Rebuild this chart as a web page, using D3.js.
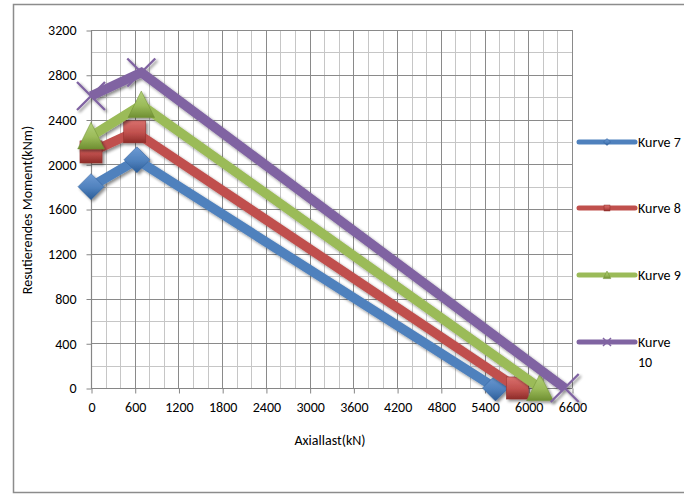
<!DOCTYPE html>
<html>
<head>
<meta charset="utf-8">
<script src="https://d3js.org/d3.v7.min.js"></script>
<style>
html,body{margin:0;padding:0;background:#fff;}
svg{display:block;}
text{font-family:Carlito,Calibri,Lato,"Liberation Sans",sans-serif;fill:#000;}
</style>
</head>
<body>
<svg id="chart" width="684" height="494"></svg>
<script>
// ---- data ----
const seriesNames = ["Kurve 7", "Kurve 8", "Kurve 9", "Kurve 10"];
const kurve7X = [0, 630, 5550];
const kurve7Y = [1800, 2040, 0];
const kurve8X = [0, 600, 5850];
const kurve8Y = [2110, 2290, 0];
const kurve9X = [0, 690, 6160];
const kurve9Y = [2250, 2530, 0];
const kurve10X = [0, 690, 6500];
const kurve10Y = [2610, 2820, 0];
const xTicks = [0, 600, 1200, 1800, 2400, 3000, 3600, 4200, 4800, 5400, 6000, 6600];
const yTicks = [0, 400, 800, 1200, 1600, 2000, 2400, 2800, 3200];
const xTitle = "Axiallast(kN)";
const yTitle = "Resutierendes Moment(kNm)";

const colors = ["#4F81BD", "#C0504D", "#9BBB59", "#8064A2"];
const darks = ["#2c5d98", "#8e2d2a", "#6f8f32", "#5b427c"];
const lights = ["#6d9ad3", "#d9706d", "#b2d07a", "#9a83ba"];
const shapes = ["diamond", "square", "triangle", "x"];
const FS = "14px";

const series = [
  {name: seriesNames[0], xs: kurve7X, ys: kurve7Y},
  {name: seriesNames[1], xs: kurve8X, ys: kurve8Y},
  {name: seriesNames[2], xs: kurve9X, ys: kurve9Y},
  {name: seriesNames[3], xs: kurve10X, ys: kurve10Y}
];

const svg = d3.select("#chart");
const defs = svg.append("defs");
const f = defs.append("filter").attr("id", "shadow").attr("x", "-30%").attr("y", "-30%").attr("width", "160%").attr("height", "160%");
f.append("feGaussianBlur").attr("in", "SourceAlpha").attr("stdDeviation", 1.6).attr("result", "b");
f.append("feOffset").attr("in", "b").attr("dx", 2).attr("dy", 2).attr("result", "o");
f.append("feComponentTransfer").attr("in", "o").attr("result", "o2")
  .append("feFuncA").attr("type", "linear").attr("slope", 0.45);
const fm = f.append("feMerge");
fm.append("feMergeNode").attr("in", "o2");
fm.append("feMergeNode").attr("in", "SourceGraphic");

colors.forEach((c, i) => {
  const g = defs.append("linearGradient").attr("id", "grad" + i).attr("x1", 0).attr("y1", 0).attr("x2", 0).attr("y2", 1);
  g.append("stop").attr("offset", "0%").attr("stop-color", lights[i]);
  g.append("stop").attr("offset", "55%").attr("stop-color", c);
  g.append("stop").attr("offset", "100%").attr("stop-color", darks[i]);
});

// outer border
svg.append("rect").attr("x", 13.5).attr("y", 4.5).attr("width", 700).attr("height", 488)
  .attr("fill", "none").attr("stroke", "#8c8c8c").attr("stroke-width", 1.5);

const x = d3.scaleLinear().domain([0, 6600]).range([91, 572]);
const y = d3.scaleLinear().domain([0, 3200]).range([388, 30]);

// minor grid
const xMinor = d3.range(0, 6601, 200).filter(v => v % 600 !== 0);
const yMinor = d3.range(0, 3201, 200).filter(v => v % 400 !== 0);
const grid = svg.append("g");
grid.selectAll(".xm").data(xMinor).join("line")
  .attr("x1", d => Math.round(x(d)) + 0.5).attr("x2", d => Math.round(x(d)) + 0.5)
  .attr("y1", y(3200)).attr("y2", y(0)).attr("stroke", "#c6c6c6").attr("stroke-width", 1);
grid.selectAll(".ym").data(yMinor).join("line")
  .attr("y1", d => Math.round(y(d)) + 0.5).attr("y2", d => Math.round(y(d)) + 0.5)
  .attr("x1", x(0)).attr("x2", x(6600)).attr("stroke", "#c6c6c6").attr("stroke-width", 1);
grid.selectAll(".xM").data(xTicks).join("line")
  .attr("x1", d => Math.round(x(d)) + 0.5).attr("x2", d => Math.round(x(d)) + 0.5)
  .attr("y1", y(3200)).attr("y2", y(0)).attr("stroke", "#8a8a8a").attr("stroke-width", 1);
grid.selectAll(".yM").data(yTicks).join("line")
  .attr("y1", d => Math.round(y(d)) + 0.5).attr("y2", d => Math.round(y(d)) + 0.5)
  .attr("x1", x(0)).attr("x2", x(6600)).attr("stroke", "#8a8a8a").attr("stroke-width", 1);

// axes
const xAxis = d3.axisBottom(x).tickValues(xTicks).tickSize(5).tickPadding(9).tickFormat(d3.format("d"));
const yAxis = d3.axisLeft(y).tickValues(yTicks).tickSize(5).tickPadding(10).tickFormat(d3.format("d"));
const gx = svg.append("g").attr("transform", `translate(0.5,${Math.round(y(0)) + 0.5})`).call(xAxis);
const gy = svg.append("g").attr("transform", `translate(${Math.round(x(0)) + 0.5},0.5)`).call(yAxis);
[gx, gy].forEach(g => {
  g.select(".domain").attr("stroke", "#868686").attr("stroke-width", 1.2);
  g.selectAll(".tick line").attr("stroke", "#868686");
  g.selectAll("text").style("font-size", FS).attr("fill", "#000");
});
gx.select(".domain").attr("d", `M${x(0)},0H${x(6600)}`);
gy.select(".domain").attr("d", `M0,${y(0)}V${y(3200)}`);

// axis titles
svg.append("text").attr("x", 330).attr("y", 445).attr("text-anchor", "middle")
  .style("font-size", FS).text(xTitle);
svg.append("text").attr("transform", "translate(32,210) rotate(-90)").attr("text-anchor", "middle")
  .style("font-size", FS).text(yTitle);

// marker drawing
function marker(g, shape, i, s) {
  const fill = `url(#grad${i})`;
  if (shape === "diamond") {
    g.append("path").attr("d", `M0,${-s}L${s},0L0,${s}L${-s},0Z`).attr("fill", fill).attr("stroke", darks[i]).attr("stroke-width", 0.5);
  } else if (shape === "square") {
    g.append("rect").attr("x", -s * 0.85).attr("y", -s * 0.85).attr("width", s * 1.7).attr("height", s * 1.7)
      .attr("fill", fill).attr("stroke", darks[i]).attr("stroke-width", 0.5);
  } else if (shape === "triangle") {
    g.append("path").attr("d", `M0,${-s}L${s * 0.95},${s * 0.9}L${-s * 0.95},${s * 0.9}Z`).attr("fill", fill).attr("stroke", darks[i]).attr("stroke-width", 0.5);
  } else {
    g.append("path").attr("d", `M${-s},${-s}L${s},${s}M${-s},${s}L${s},${-s}`).attr("stroke", colors[i]).attr("stroke-width", Math.max(1.5, s / 6)).attr("fill", "none");
  }
}

const line = d3.line().x(d => x(d[0])).y(d => y(d[1]));
const plot = svg.append("g");
series.forEach((s, i) => {
  const pts = s.xs.map((v, k) => [v, s.ys[k]]);
  const g = plot.append("g").attr("filter", "url(#shadow)");
  g.append("path").datum(pts).attr("d", line).attr("fill", "none")
    .attr("stroke", colors[i]).attr("stroke-width", 9.5).attr("stroke-linejoin", "miter");
  const sizes = [13, 13, 14, 14];
  pts.forEach(p => {
    const mg = g.append("g").attr("transform", `translate(${x(p[0])},${y(p[1])})`);
    marker(mg, shapes[i], i, sizes[i]);
  });
});

// legend
const legY = [142, 208, 275, 342];
const leg = svg.append("g");
series.forEach((s, i) => {
  const g = leg.append("g").attr("transform", `translate(0,${legY[i]})`);
  g.append("line").attr("x1", 579).attr("x2", 635).attr("y1", 0).attr("y2", 0)
    .attr("stroke", colors[i]).attr("stroke-width", 5).attr("stroke-linecap", "round");
  const mg = g.append("g").attr("transform", "translate(607,0)");
  marker(mg, shapes[i], i, [3.5, 3.5, 4, 4][i]);
  if (s.name === "Kurve 10") {
    const t = g.append("text").attr("x", 638).attr("y", 5).style("font-size", FS);
    t.append("tspan").attr("x", 638).text("Kurve");
    t.append("tspan").attr("x", 638).attr("dy", 20).text("10");
  } else {
    g.append("text").attr("x", 638).attr("y", 5).style("font-size", FS).text(s.name);
  }
});
</script>
</body>
</html>
